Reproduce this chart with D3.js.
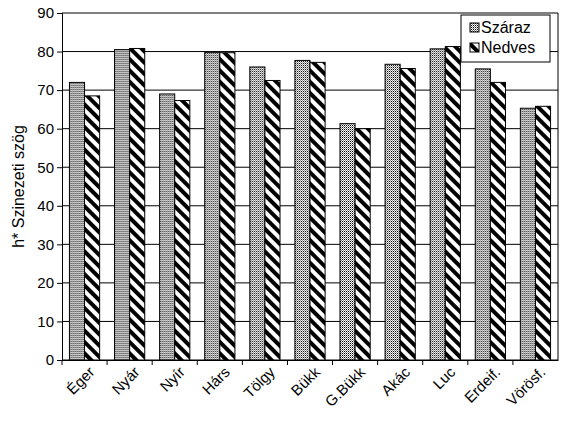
<!DOCTYPE html>
<html><head><meta charset="utf-8">
<script src="https://cdn.jsdelivr.net/npm/d3@7"></script>
<style>body{margin:0;background:#fff}</style>
</head><body><div class="container"></div>
<script>
let categories = ["Éger","Nyár","Nyír","Hárs","Tölgy","Bükk","G.Bükk","Akác","Luc","Erdeif.","Vörösf."];
let szaraz = [72, 80.5, 69, 79.8, 76, 77.7, 61.3, 76.7, 80.7, 75.5, 65.3];
let nedves = [68.5, 80.8, 67.3, 79.7, 72.5, 77.2, 60, 75.6, 81.3, 72, 65.8];
let seriesNames = ["Száraz","Nedves"];
let yTicks = d3.range(0, 91, 10);

let svgWidth = 566, svgHeight = 425;
let margin = {top: 13, right: 8, bottom: 65, left: 62};
let width = svgWidth - margin.left - margin.right;
let height = svgHeight - margin.top - margin.bottom;

let svg = d3.select(".container").append("svg")
    .attr("width", svgWidth).attr("height", svgHeight)
    .style("font-family", "Arial, 'Liberation Sans', sans-serif");

let defs = svg.append("defs");
let dots = defs.append("pattern").attr("id", "dots").attr("width", 2).attr("height", 2)
    .attr("patternUnits", "userSpaceOnUse");
dots.append("rect").attr("width", 2).attr("height", 2).attr("fill", "#fff");
dots.append("rect").attr("width", 1).attr("height", 1).attr("fill", "#000");
dots.append("rect").attr("x", 1).attr("y", 1).attr("width", 1).attr("height", 1).attr("fill", "#888");
let hatch = defs.append("pattern").attr("id", "hatch").attr("width", 8).attr("height", 8)
    .attr("patternUnits", "userSpaceOnUse").attr("patternTransform", "rotate(-45)");
hatch.append("rect").attr("width", 8).attr("height", 8).attr("fill", "#fff");
hatch.append("rect").attr("width", 4).attr("height", 8).attr("fill", "#000");

let g = svg.append("g").attr("transform", `translate(${margin.left},${margin.top})`);

let x = d3.scaleBand().domain(categories).range([0, width]).paddingInner(0.33).paddingOuter(0.165);
let xs = d3.scaleBand().domain(seriesNames).range([0, x.bandwidth()]);
let y = d3.scaleLinear().domain([0, 90]).range([height, 0]);

g.selectAll(".grid").data(yTicks).enter().append("line")
    .attr("x1", 0).attr("x2", width).attr("y1", d => y(d)).attr("y2", d => y(d))
    .attr("stroke", "#000").attr("stroke-width", 1);

g.append("g").call(d3.axisLeft(y).tickValues(yTicks).tickSize(5))
    .call(a => a.selectAll("text").attr("font-size", 15).attr("fill", "#000"))
    .call(a => a.select(".domain").attr("stroke", "#000"));

let groups = g.selectAll(".grp").data(categories).enter().append("g")
    .attr("transform", d => `translate(${x(d)},0)`);
groups.append("rect").attr("x", xs("Száraz")).attr("width", xs.bandwidth())
    .attr("y", (d, i) => y(szaraz[i])).attr("height", (d, i) => height - y(szaraz[i]))
    .attr("fill", "url(#dots)").attr("stroke", "#000");
groups.append("rect").attr("x", xs("Nedves")).attr("width", xs.bandwidth())
    .attr("y", (d, i) => y(nedves[i])).attr("height", (d, i) => height - y(nedves[i]))
    .attr("fill", "url(#hatch)").attr("stroke", "#000");

let xa = g.append("g").attr("transform", `translate(0,${height})`)
    .call(d3.axisBottom(x).tickSize(5).tickSizeOuter(0));
xa.select(".domain").attr("stroke", "#000");
xa.selectAll("line").attr("transform", `translate(${-x.step()/2},0)`);
xa.selectAll("text").attr("font-size", 15).attr("fill", "#000")
    .attr("text-anchor", "end").attr("dx", "-0.1em").attr("dy", "0.6em")
    .attr("transform", "rotate(-45)");
g.append("line").attr("x1", width).attr("x2", width).attr("y1", 0).attr("y2", height).attr("stroke", "#000");

svg.append("text").attr("transform", `translate(24,${margin.top + height/2}) rotate(-90)`)
    .attr("text-anchor", "middle").attr("font-size", 16).text("h* Szinezeti szög");

let lg = svg.append("g").attr("transform", "translate(461,15)");
lg.append("rect").attr("width", 89).attr("height", 47).attr("fill", "#fff").attr("stroke", "#000");
seriesNames.forEach((s, i) => {
    lg.append("rect").attr("x", 9).attr("y", 8 + i * 20).attr("width", 9).attr("height", 9)
        .attr("fill", i ? "url(#hatch)" : "url(#dots)").attr("stroke", "#000");
    lg.append("text").attr("x", 20).attr("y", 18 + i * 20).attr("font-size", 16).text(s);
});
</script></body></html>
